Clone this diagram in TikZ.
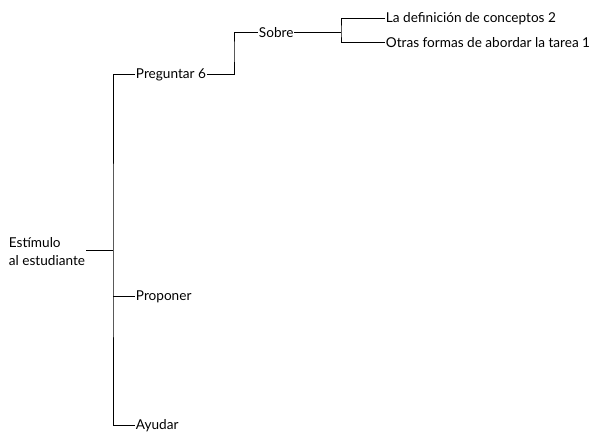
\documentclass[tikz,border=0pt]{standalone}
\usepackage{fontspec}
\setmainfont{Lato}
\begin{document}
\begin{tikzpicture}[x=1pt,y=1pt,yscale=-1,xscale=1,
    lbl/.style={anchor=west,inner sep=0.75pt,font=\fontsize{13.6}{18}\selectfont},
    rama/.style={line width=1pt}]
\useasboundingbox (0,0) rectangle (608,435);
% Root text
\node (raiz) [lbl,align=left] at (8,252) {Estímulo\\al estudiante};
\coordinate (tronco) at (113,251);
% Level one
\node (preg) [lbl] at (135,74.7) {Preguntar 6};
\node (prop) [lbl] at (135,296.7) {Proponer};
\node (ayud) [lbl] at (135,426) {Ayudar};
% Level two
\node (sobre) [lbl] at (258,32.3) {Sobre};
\coordinate (codo) at (234,50);
% Level three
\node (defi) [lbl] at (385,18.3) {La definición de conceptos 2};
\node (otras) [lbl] at (385,42.7) {Otras formas de abordar la tarea 1};
\coordinate (horq) at (341,32.3);

% Branches
\draw [rama] (raiz.east |- tronco) -- (tronco);
\draw [rama] (preg.west) -| (tronco) |- (ayud.west);
\draw [rama] (tronco |- prop.west) -- (prop.west);
\draw [rama] (preg.east) -| (codo) |- (sobre.west);
\draw [rama] (sobre.east) -- (horq);
\draw [rama] (defi.west) -| (horq) |- (otras.west);
\end{tikzpicture}
\end{document}
